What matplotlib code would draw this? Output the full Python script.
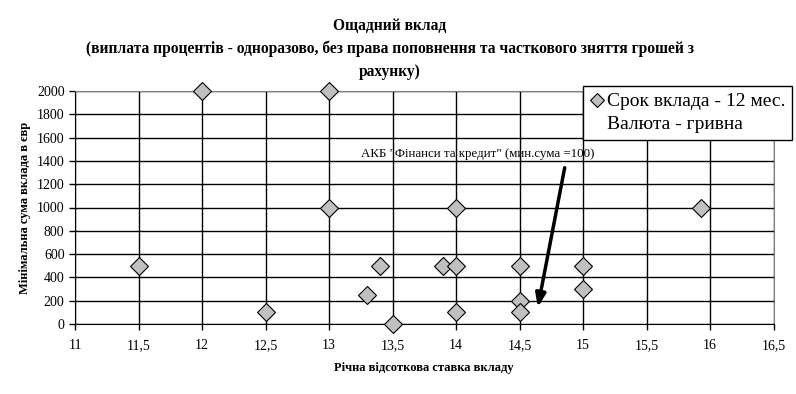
import matplotlib
matplotlib.use("Agg")
import matplotlib.pyplot as plt
from matplotlib.lines import Line2D

# річна ставка (%) та мінімальна сума вкладу
rates = [11.5, 12, 12.5, 13, 13, 13.3, 13.4, 13.5, 13.9, 14, 14, 14, 14.5, 14.5, 14.5, 15, 15, 15.93]
min_sums = [500, 2000, 100, 2000, 1000, 250, 500, 0, 500, 500, 1000, 100, 500, 200, 100, 500, 300, 1000]

x_ticks = [11, 11.5, 12, 12.5, 13, 13.5, 14, 14.5, 15, 15.5, 16, 16.5]
x_labels = ["11", "11,5", "12", "12,5", "13", "13,5", "14", "14,5", "15", "15,5", "16", "16,5"]
y_ticks = [0, 200, 400, 600, 800, 1000, 1200, 1400, 1600, 1800, 2000]

title = ("Ощадний вклад\n(виплата процентів - одноразово, без права поповнення та часткового зняття грошей з\n"
         "рахунку)")
note = "АКБ \"Фінанси та кредит\" (мин.сума =100)"
legend_lines = ["Срок вклада - 12 мес.", "Валюта - гривна"]

plt.rcParams["font.family"] = ["Liberation Serif", "DejaVu Serif"]

fig = plt.figure(figsize=(7.96, 3.94), dpi=100)
ax = fig.add_axes([75 / 796, 1 - 324 / 394, 698.5 / 796, 233 / 394])

pts, = ax.plot(rates, min_sums, linestyle="none", marker="D", markersize=9,
               markerfacecolor="#c0c0c0", markeredgecolor="black", markeredgewidth=0.8,
               zorder=5, clip_on=False)

ax.set_xlim(11, 16.5)
ax.set_ylim(0, 2000)
ax.set_xticks(x_ticks)
ax.set_xticklabels(x_labels)
ax.set_yticks(y_ticks)
ax.tick_params(labelsize=10, length=4, width=1, direction="out", colors="black")
ax.tick_params(axis="x", pad=7)
ax.grid(True, color="black", linewidth=1)
ax.set_axisbelow(True)
for side in ["top", "right"]:
    ax.spines[side].set_color("#808080")
for side in ["left", "bottom"]:
    ax.spines[side].set_color("black")

ax.set_xlabel("Річна відсоткова ставка вкладу", fontsize=9, fontweight="bold", labelpad=7)
ax.set_ylabel("Мінімальна сума вклада в євр", fontsize=9, fontweight="bold", labelpad=4)

fig.text(390 / 796, 1 - 49 / 394, title, ha="center", va="center", fontsize=11.2,
         fontweight="bold", linespacing=1.55)

ax.text(13.25, 1459, note, fontsize=9.3, ha="left", va="center")
ax.annotate("", xy=(14.64, 120), xytext=(14.86, 1365),
            arrowprops=dict(arrowstyle="-|>,head_width=0.3,head_length=0.8",
                            color="black", lw=2.5))

# second legend row has no marker, only the text
blank = Line2D([], [], linestyle="none", marker="none")
leg = ax.legend([pts, blank], legend_lines, loc="upper left",
                bbox_to_anchor=(583 / 796, 1 - 86 / 394),
                bbox_transform=fig.transFigure, fontsize=14, frameon=True,
                fancybox=False, edgecolor="black", framealpha=1,
                handletextpad=0.2, handlelength=0.7, markerscale=0.8,
                borderpad=0.35, labelspacing=0.25, borderaxespad=0)
leg.get_frame().set_linewidth(1)
leg.set_zorder(10)

fig.savefig("out.png", dpi=100)
